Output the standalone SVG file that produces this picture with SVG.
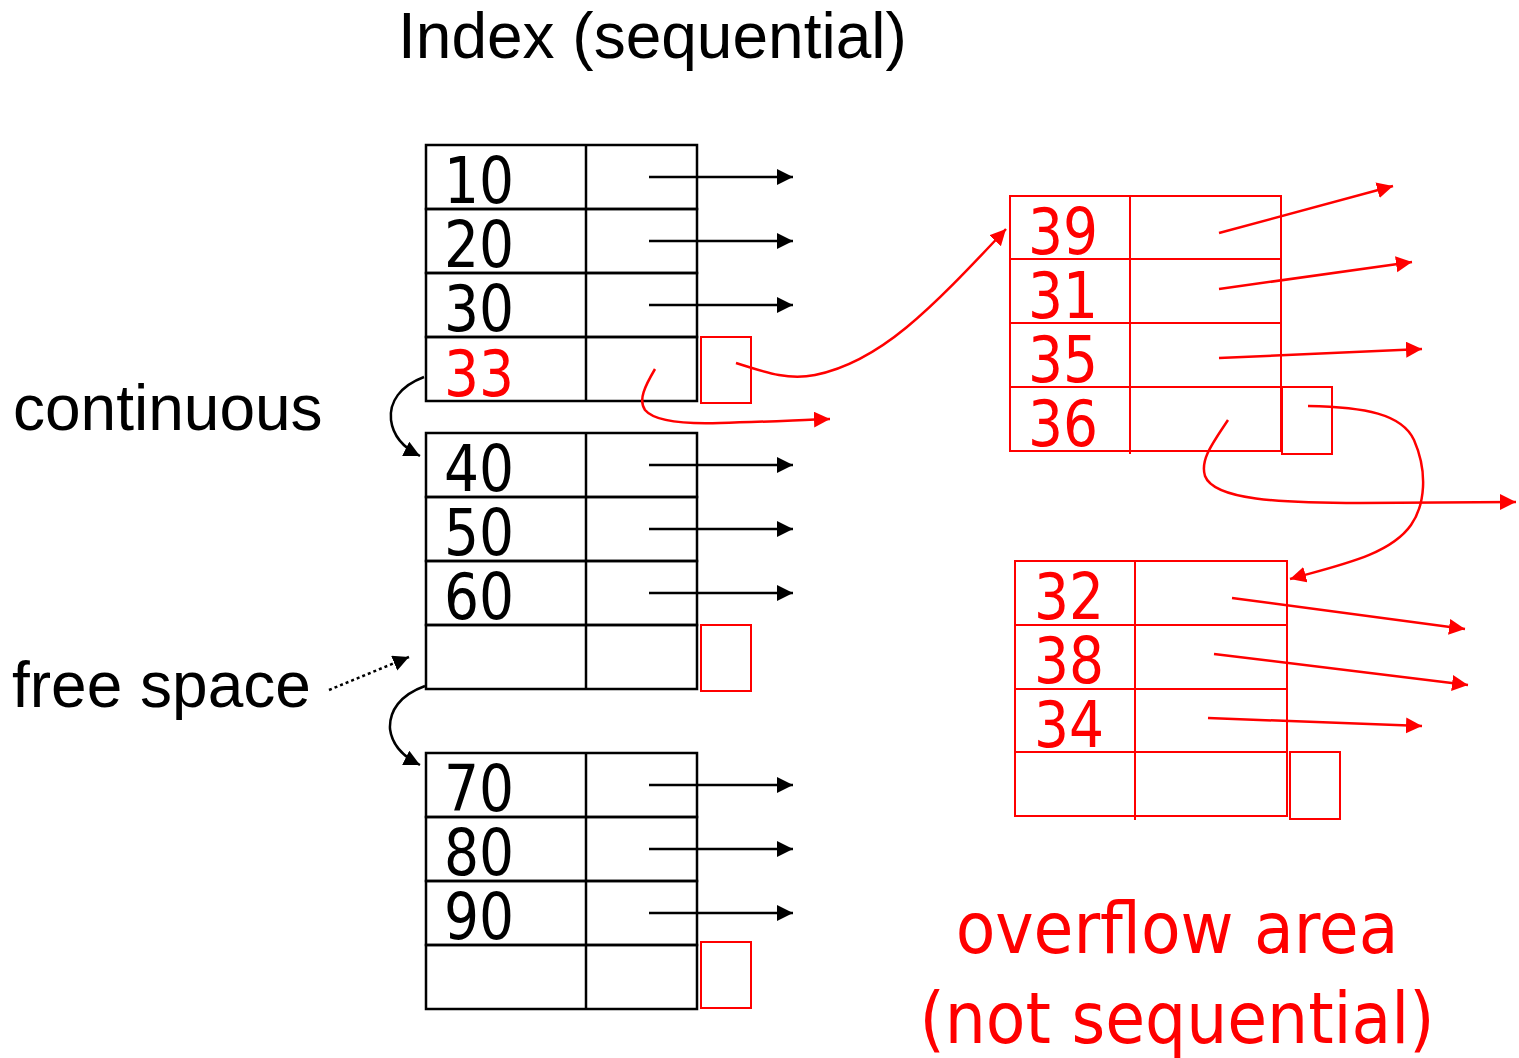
<svg xmlns="http://www.w3.org/2000/svg" width="1519" height="1058" viewBox="0 0 1519 1058">
  <style>
    .cell { fill: none; stroke: #000; stroke-width: 2.5; }
    .rcell { fill: none; stroke: #ff0000; stroke-width: 2; }
    .num { font-family: "DejaVu Sans Condensed", "DejaVu Sans", sans-serif; font-stretch: condensed; font-size: 64px; fill: #000; }
    .rnum { fill: #ff0000; }
    .label { font-family: "Liberation Sans", Arial, sans-serif; font-size: 64px; fill: #000; }
    .rlabel { font-family: "DejaVu Sans Condensed", "DejaVu Sans", sans-serif; font-stretch: condensed; font-size: 72px; fill: #ff0000; text-anchor: middle; }
    .bl { fill: none; stroke: #000; stroke-width: 2.5; marker-end: url(#ah); }
    .rl { fill: none; stroke: #ff0000; stroke-width: 2.5; marker-end: url(#ahr); }
  </style>
  <defs>
    <marker id="ah" markerUnits="userSpaceOnUse" markerWidth="18" markerHeight="18" refX="16" refY="8" orient="auto">
      <path d="M0,0 L16,8 L0,16 z" fill="#000"/>
    </marker>
    <marker id="ahr" markerUnits="userSpaceOnUse" markerWidth="18" markerHeight="18" refX="16" refY="8" orient="auto">
      <path d="M0,0 L16,8 L0,16 z" fill="#ff0000"/>
    </marker>
  </defs>

  <rect width="1519" height="1058" fill="#fff"/>

  <!-- titles and side labels -->
  <text class="label" x="398" y="58">Index (sequential)</text>
  <text class="label" x="13" y="430">continuous</text>
  <text class="label" x="12" y="707">free space</text>
  <text class="rlabel" x="1177" y="953">overflow area</text>
  <text class="rlabel" x="1177" y="1043">(not sequential)</text>

  <!-- index block 1 -->
  <g id="block1">
    <rect class="cell" x="426" y="145" width="271" height="64"/>
    <rect class="cell" x="426" y="209" width="271" height="64"/>
    <rect class="cell" x="426" y="273" width="271" height="64"/>
    <rect class="cell" x="426" y="337" width="271" height="64"/>
    <line class="cell" x1="586" y1="145" x2="586" y2="401"/>
    <rect class="rcell" x="701" y="337" width="50" height="66"/>
    <text class="num" x="444" y="203" textLength="70" lengthAdjust="spacingAndGlyphs">10</text>
    <text class="num" x="444" y="267" textLength="70" lengthAdjust="spacingAndGlyphs">20</text>
    <text class="num" x="444" y="331" textLength="70" lengthAdjust="spacingAndGlyphs">30</text>
    <text class="num rnum" x="444" y="396" textLength="70" lengthAdjust="spacingAndGlyphs">33</text>
  </g>

  <!-- index block 2 -->
  <g id="block2">
    <rect class="cell" x="426" y="433" width="271" height="64"/>
    <rect class="cell" x="426" y="497" width="271" height="64"/>
    <rect class="cell" x="426" y="561" width="271" height="64"/>
    <rect class="cell" x="426" y="625" width="271" height="64"/>
    <line class="cell" x1="586" y1="433" x2="586" y2="689"/>
    <rect class="rcell" x="701" y="625" width="50" height="66"/>
    <text class="num" x="444" y="491" textLength="70" lengthAdjust="spacingAndGlyphs">40</text>
    <text class="num" x="444" y="555" textLength="70" lengthAdjust="spacingAndGlyphs">50</text>
    <text class="num" x="444" y="619" textLength="70" lengthAdjust="spacingAndGlyphs">60</text>
  </g>

  <!-- index block 3 -->
  <g id="block3">
    <rect class="cell" x="426" y="753" width="271" height="64"/>
    <rect class="cell" x="426" y="817" width="271" height="64"/>
    <rect class="cell" x="426" y="881" width="271" height="64"/>
    <rect class="cell" x="426" y="945" width="271" height="64"/>
    <line class="cell" x1="586" y1="753" x2="586" y2="1009"/>
    <rect class="rcell" x="701" y="942" width="50" height="66"/>
    <text class="num" x="444" y="811" textLength="70" lengthAdjust="spacingAndGlyphs">70</text>
    <text class="num" x="444" y="875" textLength="70" lengthAdjust="spacingAndGlyphs">80</text>
    <text class="num" x="444" y="939" textLength="70" lengthAdjust="spacingAndGlyphs">90</text>
  </g>

  <!-- overflow block 1 -->
  <g id="overflow1">
    <rect class="rcell" x="1010" y="196" width="271" height="63"/>
    <rect class="rcell" x="1010" y="259" width="271" height="64"/>
    <rect class="rcell" x="1010" y="323" width="271" height="64"/>
    <rect class="rcell" x="1010" y="387" width="271" height="64"/>
    <line class="rcell" x1="1130" y1="196" x2="1130" y2="454"/>
    <rect class="rcell" x="1282" y="387" width="50" height="67"/>
    <text class="num rnum" x="1028" y="254" textLength="70" lengthAdjust="spacingAndGlyphs">39</text>
    <text class="num rnum" x="1028" y="318" textLength="70" lengthAdjust="spacingAndGlyphs">31</text>
    <text class="num rnum" x="1028" y="382" textLength="70" lengthAdjust="spacingAndGlyphs">35</text>
    <text class="num rnum" x="1028" y="446" textLength="70" lengthAdjust="spacingAndGlyphs">36</text>
  </g>

  <!-- overflow block 2 -->
  <g id="overflow2">
    <rect class="rcell" x="1015" y="561" width="272" height="64"/>
    <rect class="rcell" x="1015" y="625" width="272" height="64"/>
    <rect class="rcell" x="1015" y="689" width="272" height="63"/>
    <rect class="rcell" x="1015" y="752" width="272" height="64"/>
    <line class="rcell" x1="1135" y1="562" x2="1135" y2="820"/>
    <rect class="rcell" x="1290" y="752" width="50" height="67"/>
    <text class="num rnum" x="1034" y="619" textLength="70" lengthAdjust="spacingAndGlyphs">32</text>
    <text class="num rnum" x="1034" y="683" textLength="70" lengthAdjust="spacingAndGlyphs">38</text>
    <text class="num rnum" x="1034" y="747" textLength="70" lengthAdjust="spacingAndGlyphs">34</text>
  </g>

  <g id="connectors">
    <!-- record pointers out of the index -->
    <line class="bl" x1="649" y1="177" x2="793" y2="177"/>
    <line class="bl" x1="649" y1="241" x2="793" y2="241"/>
    <line class="bl" x1="649" y1="305" x2="793" y2="305"/>
    <line class="bl" x1="649" y1="465" x2="793" y2="465"/>
    <line class="bl" x1="649" y1="529" x2="793" y2="529"/>
    <line class="bl" x1="649" y1="593" x2="793" y2="593"/>
    <line class="bl" x1="649" y1="785" x2="793" y2="785"/>
    <line class="bl" x1="649" y1="849" x2="793" y2="849"/>
    <line class="bl" x1="649" y1="913" x2="793" y2="913"/>

    <!-- block chaining -->
    <path class="bl" d="M424,377 C400,386 389,402 391,420 C393,436 404,448 420,456"/>
    <path class="bl" d="M425,686 C400,695 389,711 390,729 C392,745 404,757 420,765"/>
    <path class="bl" d="M329,690 L409,657" stroke-dasharray="3,3" stroke-width="3"/>

    <!-- overflow pointers -->
    <path class="rl" d="M736,363 C770,374 790,380 815,375 C880,362 930,310 1006,229"/>
    <path class="rl" d="M655,369 C645,386 638,400 645,410 C655,422 690,424 720,423 C760,422 800,420 830,419"/>
    <line class="rl" x1="1219" y1="233" x2="1393" y2="186"/>
    <line class="rl" x1="1219" y1="289" x2="1412" y2="262"/>
    <line class="rl" x1="1219" y1="358" x2="1422" y2="349"/>
    <path class="rl" d="M1228,420 C1212,444 1200,460 1205,476 C1214,500 1280,503 1360,503 C1420,503 1470,502 1516,502"/>
    <path class="rl" d="M1308,406 C1365,407 1402,414 1414,440 C1428,472 1425,505 1411,525 C1390,555 1340,565 1290,579"/>
    <line class="rl" x1="1232" y1="598" x2="1465" y2="629"/>
    <line class="rl" x1="1214" y1="654" x2="1468" y2="685"/>
    <line class="rl" x1="1208" y1="718" x2="1422" y2="726"/>
  </g>
</svg>
